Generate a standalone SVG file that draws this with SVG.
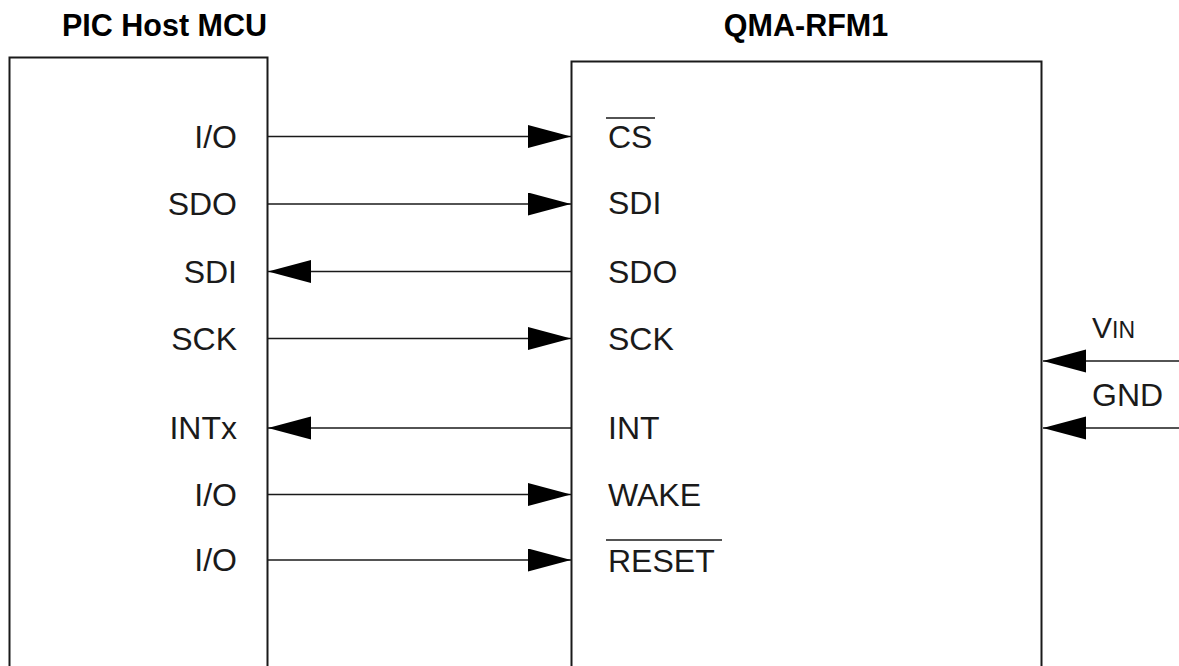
<svg xmlns="http://www.w3.org/2000/svg" width="1179" height="666" viewBox="0 0 1179 666">
<style>
.box{fill:none;stroke:#1a1a1a;stroke-width:2}
.wire{stroke:#1a1a1a;stroke-width:1.6;fill:none}
.t{font-family:"Liberation Sans",Arial,sans-serif;font-size:32px;fill:#1a1a1a}
.title{font-family:"Liberation Sans",Arial,sans-serif;font-size:30.5px;font-weight:bold;fill:#000}
.l{text-anchor:end}
.ol{stroke:#1a1a1a;stroke-width:1.6}
</style>
<defs>
<marker id="ah" markerUnits="userSpaceOnUse" markerWidth="44" markerHeight="24" refX="43" refY="11.5" orient="auto" viewBox="0 0 44 24">
<path d="M0,0 L43,11.5 L0,23 Z" fill="#000"/>
</marker>
</defs>
<rect width="1179" height="666" fill="#fff"/>
<g id="pic-host-mcu">
<path class="box" d="M9.5,670 V57.5 H267.5 V670"/>
<text class="title" x="62" y="36">PIC Host MCU</text>
<text class="t l" x="237" y="147.5">I/O</text>
<text class="t l" x="237" y="215">SDO</text>
<text class="t l" x="237" y="282.5">SDI</text>
<text class="t l" x="237" y="349.5">SCK</text>
<text class="t l" x="237" y="439">INTx</text>
<text class="t l" x="237" y="505.5">I/O</text>
<text class="t l" x="237" y="570.5">I/O</text>
</g>
<g id="qma-rfm1">
<path class="box" d="M571.5,670 V61.5 H1041.5 V670"/>
<text class="title" x="806" y="36" text-anchor="middle">QMA-RFM1</text>
<text class="t" x="608" y="147.5">CS</text>
<line class="ol" x1="606" y1="118" x2="655" y2="118"/>
<text class="t" x="608" y="214">SDI</text>
<text class="t" x="608" y="283">SDO</text>
<text class="t" x="608" y="350">SCK</text>
<text class="t" x="608" y="439">INT</text>
<text class="t" x="608" y="506">WAKE</text>
<text class="t" x="608" y="572">RESET</text>
<line class="ol" x1="606" y1="540" x2="722" y2="540"/>
</g>
<g id="power">
<text class="t" x="1092" y="338"><tspan font-size="30">V</tspan><tspan font-size="23">IN</tspan></text>
<text class="t" x="1092" y="405.5">GND</text>
</g>
<g id="connectors">
<line class="wire" x1="268" y1="136.5" x2="571" y2="136.5" marker-end="url(#ah)"/>
<line class="wire" x1="268" y1="204" x2="571" y2="204" marker-end="url(#ah)"/>
<line class="wire" x1="571" y1="271.5" x2="268" y2="271.5" marker-end="url(#ah)"/>
<line class="wire" x1="268" y1="338.5" x2="571" y2="338.5" marker-end="url(#ah)"/>
<line class="wire" x1="571" y1="428" x2="268" y2="428" marker-end="url(#ah)"/>
<line class="wire" x1="268" y1="494.5" x2="571" y2="494.5" marker-end="url(#ah)"/>
<line class="wire" x1="268" y1="560" x2="571" y2="560" marker-end="url(#ah)"/>
<line class="wire" x1="1179" y1="361" x2="1043" y2="361" marker-end="url(#ah)"/>
<line class="wire" x1="1179" y1="428" x2="1043" y2="428" marker-end="url(#ah)"/>
</g>
</svg>
